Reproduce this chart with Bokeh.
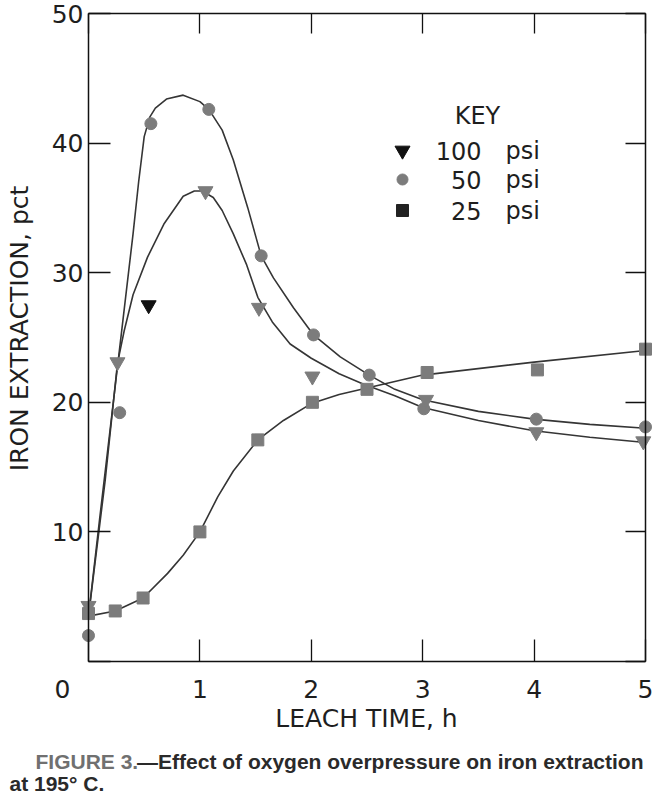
from bokeh.plotting import figure
from bokeh.models import Range1d, LinearAxis, FixedTicker, Label
from bokeh.embed import file_html
from bokeh.resources import INLINE

# ---------------- data ----------------
t100_x = [0.0, 0.26, 1.05, 1.53, 2.01, 3.03, 4.02, 4.98]
t100_y = [4.3, 23.1, 36.3, 27.3, 22.0, 20.2, 17.7, 17.0]
t100_out_x = [0.54]
t100_out_y = [27.5]

t50_x = [0.0, 0.28, 0.56, 1.08, 1.55, 2.02, 2.52, 3.01, 4.02, 5.0]
t50_y = [2.0, 19.2, 41.5, 42.6, 31.3, 25.2, 22.1, 19.5, 18.7, 18.1]

t25_x = [0.0, 0.24, 0.49, 1.0, 1.52, 2.01, 2.5, 3.04, 4.03, 5.0]
t25_y = [3.7, 3.9, 4.9, 10.0, 17.1, 20.0, 21.0, 22.3, 22.5, 24.1]

c50_x = [0.0, 0.1, 0.25, 0.4, 0.45, 0.5, 0.55, 0.6, 0.7, 0.85, 1.0, 1.08, 1.2,
         1.3, 1.43, 1.55, 1.66, 1.84, 2.02, 2.26, 2.52, 2.75, 3.0, 3.5, 4.0,
         4.5, 5.0]
c50_y = [3.5, 11.0, 22.0, 33.0, 37.0, 40.5, 42.0, 42.7, 43.4, 43.7, 43.2, 42.6,
         41.0, 38.7, 35.0, 31.3, 29.6, 27.3, 25.2, 23.5, 22.1, 21.0, 20.2,
         19.3, 18.7, 18.3, 18.0]

c100_x = [0.0, 0.15, 0.26, 0.32, 0.4, 0.53, 0.68, 0.85, 0.95, 1.02, 1.12, 1.2,
          1.3, 1.42, 1.52, 1.65, 1.81, 2.0, 2.25, 2.47, 2.75, 3.0, 3.5, 4.0,
          4.5, 5.0]
c100_y = [3.5, 14.0, 23.0, 25.5, 28.3, 31.2, 33.8, 35.9, 36.3, 36.3, 35.8,
          34.8, 33.0, 30.6, 28.1, 26.2, 24.5, 23.4, 22.2, 21.4, 20.5, 19.6,
          18.6, 17.8, 17.3, 16.9]

c25_x = [0.0, 0.24, 0.49, 0.71, 0.85, 1.0, 1.16, 1.3, 1.52, 1.75, 2.0, 2.25,
         2.5, 3.0, 4.0, 5.0]
c25_y = [3.5, 3.9, 4.9, 6.8, 8.2, 10.0, 12.7, 14.7, 17.1, 18.6, 19.9, 20.6,
         21.1, 22.1, 23.1, 24.0]

x_ticks = [0, 1, 2, 3, 4, 5]
y_ticks = [0, 10, 20, 30, 40, 50]
legend_nums = ["100", "50", "25"]
legend_unit = "psi"

# ---------------- layout: the frame fills the canvas; axes are fixed ----------
W, H = 652, 796
FL, FR, FT, FB = 88, 645, 13, 661          # pixel box of the data area
XMIN, XMAX, YMIN, YMAX = 0.0, 5.0, 0.0, 50.0
def dx(px):
    return XMIN + (px - FL) / (FR - FL) * (XMAX - XMIN)
def dy(py):
    return YMIN + (FB - py) / (FB - FT) * (YMAX - YMIN)

FONT = "DejaVu Sans"
INK = "#1e1e1e"
MARK = "#7c7c7c"
LINE = "#353535"
AX = "#111111"

p = figure(width=W, height=H, output_backend="svg", toolbar_location=None,
           x_range=Range1d(dx(0), dx(W)), y_range=Range1d(dy(H), dy(0)),
           x_axis_location=None, y_axis_location=None, min_border=0)
p.xgrid.visible = False
p.ygrid.visible = False
p.outline_line_color = None
p.background_fill_color = "white"
p.border_fill_color = "white"

def frame_axis(ticks, loc, bounds, tick_len):
    ax = LinearAxis(ticker=FixedTicker(ticks=ticks), fixed_location=loc,
                    bounds=bounds)
    ax.major_tick_in = tick_len
    ax.major_tick_out = 0
    ax.minor_tick_line_color = None
    ax.axis_line_color = AX
    ax.axis_line_width = 1.5
    ax.major_tick_line_color = AX
    ax.major_tick_line_width = 1.3
    ax.major_label_text_font_size = "0px"
    ax.major_label_text_color = None
    ax.major_label_standoff = 0
    return ax

p.add_layout(frame_axis(x_ticks, YMIN, (XMIN, XMAX), 22), "below")
p.add_layout(frame_axis(y_ticks, XMIN, (YMIN, YMAX), 22), "left")
p.add_layout(frame_axis(x_ticks, YMAX, (XMIN, XMAX), 20), "above")
p.add_layout(frame_axis(y_ticks, XMAX, (YMIN, YMAX), 20), "right")

# curves
for cx, cy in ((c50_x, c50_y), (c100_x, c100_y), (c25_x, c25_y)):
    p.line(cx, cy, line_color=LINE, line_width=1.6)

# markers
p.scatter(t25_x, t25_y, marker="square", size=12, fill_color=MARK, line_color=MARK)
p.scatter(t50_x, t50_y, marker="circle", size=12, fill_color=MARK, line_color=MARK)
p.scatter(t100_x, t100_y, marker="inverted_triangle", size=15, fill_color=MARK, line_color=MARK)
p.scatter(t100_out_x, t100_out_y, marker="inverted_triangle", size=15,
          fill_color=AX, line_color=AX)

def label(x, y, text, align="left", size="25px", font=FONT, style="normal",
          color=INK, angle=0):
    p.add_layout(Label(x=x, y=y, text=text, text_align=align,
                       text_baseline="middle", text_font=font,
                       text_font_size=size, text_font_style=style,
                       text_color=color, angle=angle, angle_units="deg"))

# tick labels
for t in x_ticks:
    xpos = dx(62) if t == 0 else t
    label(xpos, dy(688), str(t), align="center")
for t in y_ticks[1:]:
    label(dx(83), t, str(t), align="right")

# axis titles
label(dx(366), dy(718), "LEACH TIME, h", align="center")
label(dx(19), dy(328), "IRON EXTRACTION, pct", align="center", angle=90)

# key
label(dx(477), dy(115), "KEY", align="center", size="24px")
key_rows = [150, 179, 210]
key_markers = ["inverted_triangle", "circle", "square"]
key_colors = [AX, MARK, "#222222"]
key_sizes = [15, 11, 12]
for row, mk, col, sz, num in zip(key_rows, key_markers, key_colors, key_sizes, legend_nums):
    p.scatter([dx(402)], [dy(row)], marker=mk, size=sz, fill_color=col, line_color=col)
    label(dx(481), dy(row), num, align="right", size="24px")
    label(dx(505), dy(row), legend_unit, align="left", size="24px")

# caption
CAP = "Liberation Sans"
label(dx(35), dy(761), "FIGURE 3.", font=CAP, style="bold", size="21px",
      color="#707070")
label(dx(643), dy(761), "\u2014Effect of oxygen overpressure on iron extraction",
      align="right", font=CAP, style="bold", size="21px", color="#2a2a2a")
label(dx(9), dy(783), "at 195\u00b0 C.", font=CAP, style="bold", size="21px",
      color="#2a2a2a")

open("out.html", "w").write(file_html(p, INLINE))
